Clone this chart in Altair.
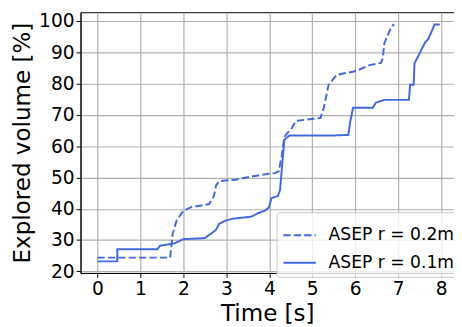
import altair as alt
import pandas as pd

# Dashed series: ASEP r = 0.2m
t_02 = [0.0, 1.69, 1.75, 1.84, 2.0, 2.07, 2.18, 2.60, 2.71, 2.76, 2.83, 3.21, 3.55, 3.90,
        4.13, 4.22, 4.29, 4.35, 4.42, 4.51, 4.62, 5.19, 5.27, 5.38, 5.57, 5.95, 6.10, 6.33,
        6.60, 6.64, 6.68, 6.75, 6.82, 6.90]
v_02 = [24.4, 24.4, 32.0, 36.2, 39.4, 39.8, 40.5, 41.5, 44.0, 47.5, 48.8, 49.3, 50.2, 51.0,
        51.4, 52.0, 57.0, 62.9, 64.2, 65.5, 68.1, 69.0, 72.3, 79.6, 82.8, 83.8, 84.5, 85.9,
        86.6, 88.0, 93.0, 95.3, 97.5, 99.0]

# Solid series: ASEP r = 0.1m
t_01 = [0.0, 0.46, 0.461, 1.39, 1.46, 1.73, 1.80, 2.0, 2.49, 2.64, 2.76, 2.83, 2.98, 3.14,
        3.59, 3.72, 3.90, 3.99, 4.05, 4.20, 4.25, 4.29, 4.35, 4.47, 5.46, 5.84, 5.88, 5.95,
        6.41, 6.48, 6.68, 7.25, 7.28, 7.36, 7.38, 7.63, 7.70, 7.85, 7.97]
v_01 = [23.2, 23.2, 27.1, 27.1, 28.2, 28.8, 29.0, 30.3, 30.6, 32.0, 33.3, 35.2, 36.2, 36.8,
        37.5, 38.5, 39.4, 40.4, 43.4, 44.1, 46.0, 52.4, 62.0, 63.4, 63.4, 63.6, 67.5, 72.3,
        72.3, 73.9, 74.8, 74.8, 79.6, 79.6, 86.4, 93.2, 94.2, 98.9, 98.9]

labels = ["ASEP r = 0.2m", "ASEP r = 0.1m"]
x_ticks = [0, 1, 2, 3, 4, 5, 6, 7, 8]
y_ticks = [20, 30, 40, 50, 60, 70, 80, 90, 100]

rows = []
for i, (t, v) in enumerate(zip(t_02, v_02)):
    rows.append({"series": labels[0], "t": t, "v": v, "i": i})
for i, (t, v) in enumerate(zip(t_01, v_01)):
    rows.append({"series": labels[1], "t": t, "v": v, "i": i})
df = pd.DataFrame(rows)

font = "DejaVu Sans"
color = "#4169e1"

chart = alt.Chart(df).mark_line(strokeWidth=2, color=color, clip=True).encode(
    x=alt.X("t:Q", scale=alt.Scale(domain=[-0.395, 8.3], nice=False, zero=False),
            axis=alt.Axis(values=x_ticks, title="Time [s]", format="d")),
    y=alt.Y("v:Q", scale=alt.Scale(domain=[19.5, 102.8], nice=False, zero=False),
            axis=alt.Axis(values=y_ticks, title="Explored volume [%]", format="d")),
    strokeDash=alt.StrokeDash(
        "series:N",
        scale=alt.Scale(domain=labels, range=[[7.4, 3.2], [1, 0]]),
        legend=alt.Legend(
            title=None, orient="none", legendX=200, legendY=204,
            symbolType="stroke", symbolSize=1089, symbolStrokeWidth=2,
            symbolStrokeColor=color, labelFontSize=17.5, labelFont=font,
            labelColor="black", rowPadding=2, padding=6,
            fillColor="rgba(255,255,255,0.8)", strokeColor="#cccccc",
            cornerRadius=3, labelOffset=12,
        ),
    ),
    order="i:Q",
).properties(
    width=381, height=266,
    autosize=alt.AutoSizeParams(type="none"),
    padding={"left": 74, "top": 1, "right": 0, "bottom": 60},
).configure_view(
    stroke="black", strokeWidth=1
).configure_axis(
    labelFont=font, titleFont=font, labelFontSize=19, titleFontSize=23.5,
    titleFontWeight="normal", labelColor="black", titleColor="black",
    domainColor="black", tickColor="black", tickSize=4.5,
    gridColor="#b0b0b0", gridWidth=1.2,
).configure_axisX(
    labelPadding=3, titlePadding=3,
).configure_axisY(
    labelPadding=2, titlePadding=4,
)

chart.save("out.html", embed_options={"renderer": "svg", "actions": False})
